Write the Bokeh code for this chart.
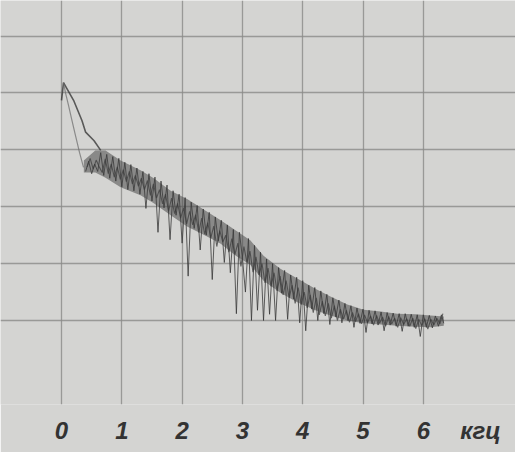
from bokeh.plotting import figure
from bokeh.models import FixedTicker, Range1d
from bokeh.embed import file_html
from bokeh.resources import INLINE

# frequency ticks (kHz) and grid levels (divisions)
freq_ticks = [0, 1, 2, 3, 4, 5, 6]
unit_tick = 6.95
unit_label = "кгц"
level_ticks = [0, 1, 2, 3, 4, 5]

# steep initial branches near 0 kHz
upper_branch_x = [0.00, 0.033, 0.20, 0.34, 0.40, 0.54, 0.65]
upper_branch_y = [3.87, 4.18, 3.87, 3.51, 3.31, 3.16, 2.99]
lower_branch_x = [0.033, 0.066, 0.116, 0.166, 0.232, 0.299, 0.365]
lower_branch_y = [4.18, 4.00, 3.78, 3.55, 3.25, 2.95, 2.69]

# envelope of the noisy band
band_x = [0.37, 0.56, 0.73, 0.98, 1.31, 1.53, 1.81, 2.09, 2.39, 2.64, 2.89, 3.13,
          3.35, 3.63, 3.91, 4.21, 4.46, 4.74, 5.01, 5.29, 5.57, 5.87, 6.12, 6.34]
band_upper = [2.81, 2.99, 2.99, 2.81, 2.64, 2.50, 2.28, 2.13, 1.93, 1.76, 1.58, 1.41,
              1.14, 0.91, 0.74, 0.56, 0.42, 0.28, 0.19, 0.16, 0.12, 0.11, 0.09, 0.07]
band_lower = [2.60, 2.60, 2.51, 2.34, 2.20, 2.06, 1.85, 1.65, 1.49, 1.35, 1.14, 0.98,
              0.70, 0.49, 0.32, 0.18, 0.09, 0.00, -0.05, -0.07, -0.09, -0.11, -0.12, -0.09]

# first sweep of the noisy trace (with the deep downward spikes)
trace_x = [0.40, 0.45, 0.50, 0.55, 0.60, 0.65, 0.70, 0.75, 0.80, 0.85, 0.90, 0.95,
           1.00, 1.05, 1.10, 1.15, 1.20, 1.25, 1.30, 1.35, 1.40, 1.45, 1.50, 1.55,
           1.60, 1.65, 1.70, 1.75, 1.80, 1.85, 1.90, 1.95, 2.00, 2.05, 2.10, 2.15,
           2.20, 2.25, 2.30, 2.35, 2.40, 2.45, 2.50, 2.55, 2.60, 2.65, 2.70, 2.75,
           2.80, 2.85, 2.90, 2.95, 3.00, 3.05, 3.10, 3.15, 3.20, 3.25, 3.30, 3.35,
           3.40, 3.45, 3.50, 3.55, 3.60, 3.65, 3.70, 3.75, 3.80, 3.85, 3.90, 3.95,
           4.00, 4.05, 4.10, 4.15, 4.20, 4.25, 4.30, 4.35, 4.40, 4.45, 4.50, 4.55,
           4.60, 4.65, 4.70, 4.75, 4.80, 4.85, 4.90, 4.95, 5.00, 5.05, 5.10, 5.15,
           5.20, 5.25, 5.30, 5.35, 5.40, 5.45, 5.50, 5.55, 5.60, 5.65, 5.70, 5.75,
           5.80, 5.85, 5.90, 5.95, 6.00, 6.05, 6.10, 6.15, 6.20, 6.25, 6.30, 6.34]
trace_y = [2.62, 2.80, 2.58, 2.75, 2.62, 2.95, 2.55, 2.92, 2.50, 2.88, 2.45, 2.85,
           2.35, 2.78, 2.30, 2.74, 2.28, 2.68, 2.22, 2.62, 1.97, 2.58, 2.10, 2.52,
           1.55, 2.45, 1.98, 2.38, 1.42, 2.28, 1.85, 2.22, 1.36, 2.16, 0.78, 2.08,
           1.62, 2.02, 1.24, 1.96, 1.50, 1.90, 0.72, 1.82, 1.40, 1.76, 1.02, 1.68,
           0.84, 1.60, 0.12, 1.55, 1.10, 0.50, 1.44, 0.00, 1.32, 0.18, 1.20, 0.00,
           1.08, 0.11, 1.00, 0.00, 0.93, 0.48, 0.88, 0.02, 0.80, 0.38, 0.76, -0.04,
           0.70, -0.18, 0.62, 0.20, 0.58, 0.00, 0.52, 0.12, 0.46, -0.07, 0.40, 0.06,
           0.36, -0.04, 0.30, 0.00, 0.26, -0.12, 0.22, -0.05, 0.20, -0.21, 0.18, -0.06,
           0.17, -0.08, 0.15, -0.18, 0.14, -0.08, 0.13, -0.10, 0.12, -0.19, 0.12, -0.10,
           0.11, -0.12, 0.10, -0.28, 0.10, -0.12, 0.09, -0.13, 0.08, -0.10, 0.10, -0.05]

# second, overlapping sweep of the noisy trace
trace2_x = [0.425, 0.475, 0.525, 0.575, 0.625, 0.675, 0.725, 0.775, 0.825, 0.875, 0.925, 0.975,
            1.025, 1.075, 1.125, 1.175, 1.225, 1.275, 1.325, 1.375, 1.425, 1.475, 1.525, 1.575,
            1.625, 1.675, 1.725, 1.775, 1.825, 1.875, 1.925, 1.975, 2.025, 2.075, 2.125, 2.175,
            2.225, 2.275, 2.325, 2.375, 2.425, 2.475, 2.525, 2.575, 2.625, 2.675, 2.725, 2.775,
            2.825, 2.875, 2.925, 2.975, 3.025, 3.075, 3.125, 3.175, 3.225, 3.275, 3.325, 3.375,
            3.425, 3.475, 3.525, 3.575, 3.625, 3.675, 3.725, 3.775, 3.825, 3.875, 3.925, 3.975,
            4.025, 4.075, 4.125, 4.175, 4.225, 4.275, 4.325, 4.375, 4.425, 4.475, 4.525, 4.575,
            4.625, 4.675, 4.725, 4.775, 4.825, 4.875, 4.925, 4.975, 5.025, 5.075, 5.125, 5.175,
            5.225, 5.275, 5.325, 5.375, 5.425, 5.475, 5.525, 5.575, 5.625, 5.675, 5.725, 5.775,
            5.825, 5.875, 5.925, 5.975, 6.025, 6.075, 6.125, 6.175, 6.225, 6.275, 6.325]
trace2_y = [2.70, 2.85, 2.66, 2.82, 2.70, 2.60, 2.84, 2.58, 2.75, 2.52, 2.70, 2.48,
            2.65, 2.44, 2.62, 2.40, 2.55, 2.36, 2.50, 2.30, 2.46, 2.20, 2.40, 2.15,
            2.30, 2.05, 2.22, 1.92, 2.15, 1.88, 2.06, 1.80, 1.98, 1.70, 1.92, 1.68,
            1.86, 1.55, 1.80, 1.52, 1.72, 1.45, 1.66, 1.30, 1.58, 1.38, 1.50, 1.20,
            1.44, 1.16, 1.36, 0.95, 1.30, 1.02, 1.22, 0.85, 1.12, 0.80, 1.00, 0.66,
            0.92, 0.60, 0.84, 0.52, 0.78, 0.45, 0.70, 0.40, 0.62, 0.30, 0.58, 0.28,
            0.50, 0.22, 0.45, 0.14, 0.40, 0.10, 0.34, 0.08, 0.30, 0.04, 0.26, 0.00,
            0.20, 0.02, 0.18, -0.03, 0.14, -0.02, 0.12, -0.06, 0.10, -0.04, 0.08, -0.08,
            0.09, -0.05, 0.06, -0.10, 0.07, -0.06, 0.04, -0.12, 0.05, -0.07, 0.03, -0.10,
            0.04, -0.14, 0.02, -0.09, 0.03, -0.15, 0.02, -0.08, 0.04, -0.06, 0.12]

BG = "#d4d4d2"
INK = "#3a3a3a"

p = figure(width=515, height=452, output_backend="svg", toolbar_location=None,
           x_range=Range1d(-1.012, 7.529), y_range=Range1d(-1.476, 5.624),
           y_axis_location=None,
           min_border_left=0, min_border_right=0, min_border_top=0, min_border_bottom=48,
           background_fill_color=BG, border_fill_color=BG, outline_line_color=None)

p.xgrid.ticker = FixedTicker(ticks=freq_ticks)
p.ygrid.ticker = FixedTicker(ticks=level_ticks)
for g in (p.xgrid, p.ygrid):
    g.grid_line_color = "#8a8a88"
    g.grid_line_width = 1.3
    g.grid_line_alpha = 0.8

ax = p.xaxis[0]
ax.ticker = FixedTicker(ticks=freq_ticks + [unit_tick])
ax.major_label_overrides = {unit_tick: unit_label}
ax.axis_line_color = None
ax.major_tick_line_color = None
ax.minor_tick_line_color = None
ax.major_label_standoff = 6
ax.major_label_text_font = "'Liberation Sans'"
ax.major_label_text_font_style = "bold italic"
ax.major_label_text_font_size = "24px"
ax.major_label_text_color = "#333333"

p.varea(x=band_x, y1=band_lower, y2=band_upper, fill_color="#4a4a4a", fill_alpha=0.55)
p.line(trace2_x, trace2_y, line_color="#444444", line_width=1.1, line_alpha=0.8)
p.line(trace_x, trace_y, line_color=INK, line_width=1.0, line_alpha=0.8)
p.line(upper_branch_x, upper_branch_y, line_color=INK, line_width=1.6, line_alpha=0.8)
p.line(lower_branch_x, lower_branch_y, line_color="#6a6a6a", line_width=1.2, line_alpha=0.7)

open("out.html", "w").write(file_html(p, INLINE))
